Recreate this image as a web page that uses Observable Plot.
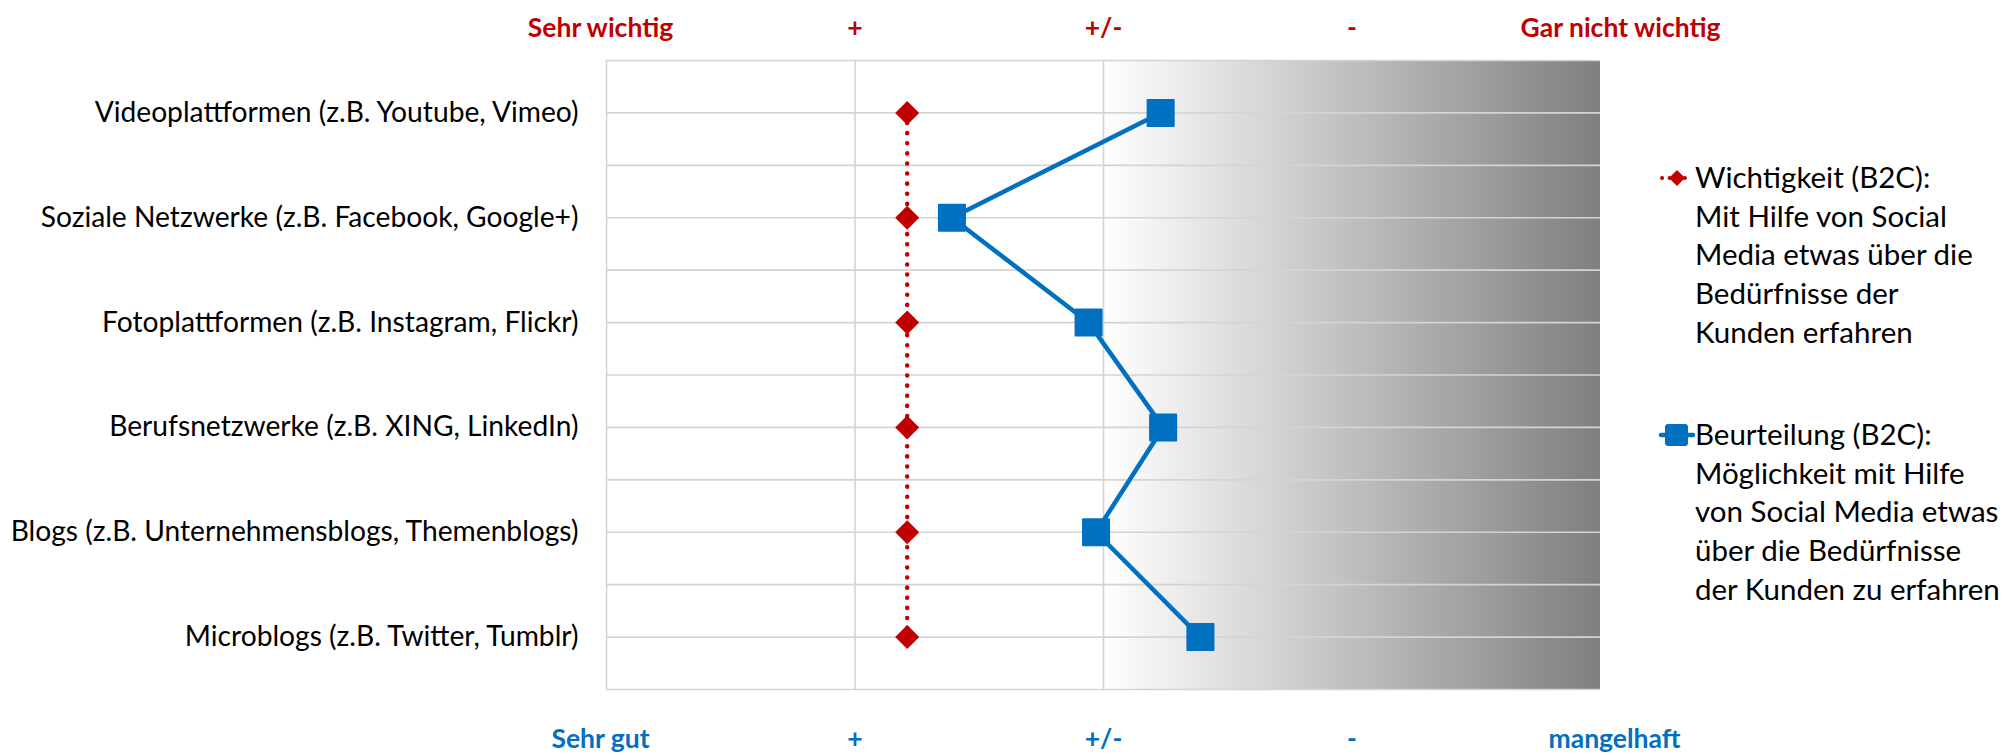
<!DOCTYPE html>
<html>
<head>
<meta charset="utf-8">
<script src="https://cdn.jsdelivr.net/npm/d3@7"></script>
<script src="https://cdn.jsdelivr.net/npm/@observablehq/plot@0.6"></script>
<style>
  html, body { margin: 0; padding: 0; background: #ffffff; }
  #wrap { position: relative; width: 2013px; height: 755px; overflow: hidden; }
  #legend { position: absolute; left: 0; top: 0; font-family: Lato, "Open Sans", sans-serif; color: #000; }
  .item { position: absolute; left: 1659px; }
  .item svg { position: absolute; left: 0; top: 9px; overflow: visible; }
  .item .txt { position: absolute; left: 36px; top: 0; font-size: 29.5px; line-height: 38.7px; white-space: nowrap; }
</style>
</head>
<body>
<div id="wrap"><div id="legend"></div></div>
<script>
// ---- data ----
const categories = [
  "Videoplattformen (z.B. Youtube, Vimeo)",
  "Soziale Netzwerke (z.B. Facebook, Google+)",
  "Fotoplattformen (z.B. Instagram, Flickr)",
  "Berufsnetzwerke (z.B. XING, LinkedIn)",
  "Blogs (z.B. Unternehmensblogs, Themenblogs)",
  "Microblogs (z.B. Twitter, Tumblr)"
];
const importance = [2.21, 2.21, 2.21, 2.21, 2.21, 2.21];   // Wichtigkeit (B2C)
const rating = [3.23, 2.39, 2.94, 3.24, 2.97, 3.39];       // Beurteilung (B2C)
const topLabels = ["Sehr wichtig", "+", "+/-", "-", "Gar nicht wichtig"];
const bottomLabels = ["Sehr gut", "+", "+/-", "-", "mangelhaft"];
const shadeRange = [3, 5];
const legendImportance = ["Wichtigkeit (B2C):", "Mit Hilfe von Social", "Media etwas über die", "Bedürfnisse der", "Kunden erfahren"];
const legendRating = ["Beurteilung (B2C):", "Möglichkeit mit Hilfe", "von Social Media etwas", "über die Bedürfnisse", "der Kunden zu erfahren"];

// ---- build ----
const RED = "#C00000", BLUE = "#0070C0", GRID = "#d4d4d4";
const rows = categories.map((c, i) => ({pos: i + 1, cat: c, imp: importance[i], rat: rating[i]}));
const xTicks = topLabels.map((_, i) => i + 1);
const midTicks = xTicks.slice(1, -1);
const firstTick = [xTicks[0]];
const lastTick = [xTicks[xTicks.length - 1]];
const yTicks = categories.map((_, i) => i + 1);
const yGrid = d3.range(1, categories.length * 2 + 2).map(k => k / 2);
const vGrid = xTicks.filter(t => t <= shadeRange[0]);

const axisText = {tickSize: 0, fontSize: 26.5, fontWeight: "bold", label: null};
const topAxis = (ticks, dx) => Plot.axisX(ticks, {...axisText, anchor: "top", tickPadding: 24, dx, fill: RED, tickFormat: i => topLabels[i - 1]});
const botAxis = (ticks, dx) => Plot.axisX(ticks, {...axisText, anchor: "bottom", tickPadding: 40, dx, fill: BLUE, tickFormat: i => bottomLabels[i - 1]});

const svg = Plot.plot({
  width: 2013,
  height: 755,
  marginLeft: 606,
  marginRight: 413,
  marginTop: 60,
  marginBottom: 66,
  style: {fontFamily: "Lato, 'Open Sans', sans-serif", background: "transparent", overflow: "visible"},
  x: {domain: [1, 5]},
  y: {domain: [0.5, categories.length + 0.5], reverse: true},
  marks: [
    Plot.rect([shadeRange], {x1: d => d[0], x2: d => d[1], fill: "url(#shade)"}),
    Plot.gridY(yGrid, {stroke: GRID, strokeOpacity: 1, strokeWidth: 1.6}),
    Plot.gridX(vGrid, {stroke: GRID, strokeOpacity: 1, strokeWidth: 1.6}),
    Plot.line(rows, {x: "imp", y: "pos", stroke: RED, strokeWidth: 4.5, strokeDasharray: "0.1 10", strokeLinecap: "round"}),
    Plot.line(rows, {x: "rat", y: "pos", stroke: BLUE, strokeWidth: 4.5}),
    Plot.dot(rows, {x: "imp", y: "pos", symbol: "diamond2", r: 10.8, fill: RED}),
    Plot.dot(rows, {x: "rat", y: "pos", symbol: "square", r: 14.7, fill: BLUE, stroke: BLUE, strokeWidth: 2, strokeLinejoin: "round"}),
    Plot.axisY(yTicks, {anchor: "left", tickFormat: i => categories[i - 1], tickSize: 0, tickPadding: 28, fontSize: 28.2, fill: "#000", label: null}),
    topAxis(firstTick, -6), topAxis(midTicks, 0), topAxis(lastTick, 20),
    botAxis(firstTick, -6), botAxis(midTicks, 0), botAxis(lastTick, 14)
  ]
});

const defs = d3.select(svg).insert("defs", ":first-child");
const grad = defs.append("linearGradient").attr("id", "shade").attr("x1", 0).attr("x2", 1).attr("y1", 0).attr("y2", 0);
grad.append("stop").attr("offset", 0).attr("stop-color", "#ffffff");
grad.append("stop").attr("offset", 1).attr("stop-color", "#7f7f7f");

document.getElementById("wrap").prepend(svg);

// ---- legend ----
const legend = d3.select("#legend");
function addItem(top, lines, kind) {
  const item = legend.append("div").attr("class", "item").style("top", top + "px");
  const s = item.append("svg").attr("width", 34).attr("height", 24);
  if (kind === "imp") {
    s.append("line").attr("x1", 3).attr("x2", 33).attr("y1", 11).attr("y2", 11)
      .attr("stroke", RED).attr("stroke-width", 4).attr("stroke-dasharray", "0.1 7.5").attr("stroke-linecap", "round");
    s.append("path").attr("d", "M18,3 L26,11 L18,19 L10,11 Z").attr("fill", RED);
  } else {
    s.append("line").attr("x1", 2).attr("x2", 34).attr("y1", 11).attr("y2", 11)
      .attr("stroke", BLUE).attr("stroke-width", 4.5).attr("stroke-linecap", "round");
    s.append("rect").attr("x", 6).attr("y", 0).attr("width", 23).attr("height", 22).attr("rx", 3).attr("fill", BLUE);
  }
  item.append("div").attr("class", "txt").html(lines.join("<br>"));
}
addItem(158, legendImportance, "imp");
addItem(415, legendRating, "rat");
</script>
</body>
</html>
